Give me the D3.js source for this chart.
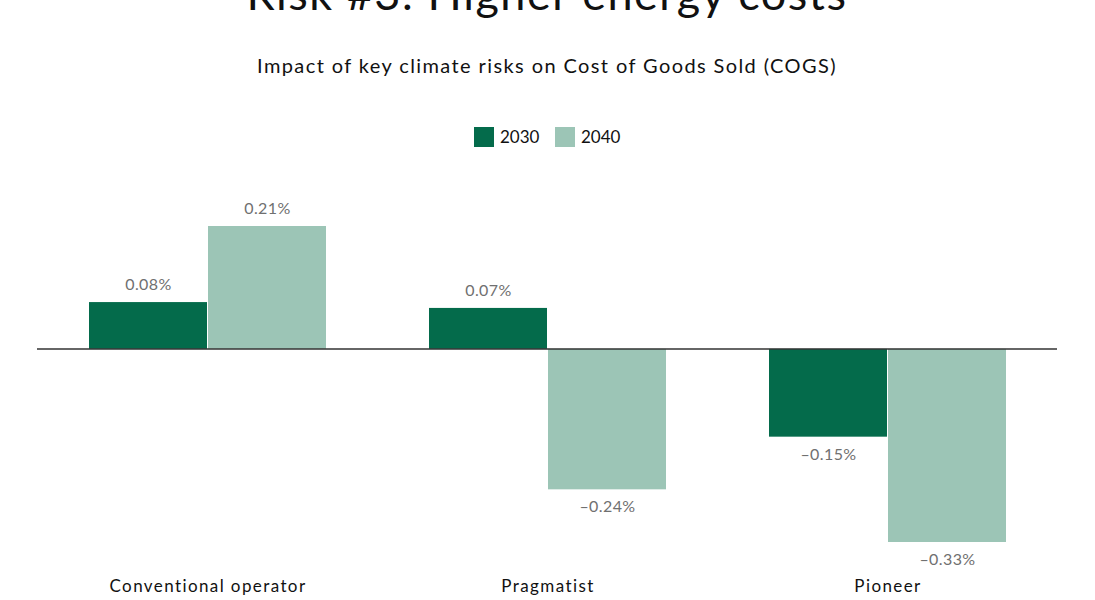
<!DOCTYPE html>
<html>
<head>
<meta charset="utf-8">
<script src="https://cdn.jsdelivr.net/npm/d3@7"></script>
<style>
  body { margin: 0; background: #fff; }
  svg text { font-family: "Lato", "Open Sans", sans-serif; }
</style>
</head>
<body>
<div id="chart"></div>
<script>
// data
var categories = ["Conventional operator", "Pragmatist", "Pioneer"]
var years = ["2030", "2040"]
var values2030 = [0.08, 0.07, -0.15]
var values2040 = [0.21, -0.24, -0.33]
var colors = ["#046b4b", "#9cc5b6"]

var width = 1095, height = 600

var svg = d3.select("#chart").append("svg")
    .attr("width", width)
    .attr("height", height)

// title is cropped at the top of the frame
svg.append("text")
    .attr("x", 547)
    .attr("y", 10)
    .attr("text-anchor", "middle")
    .attr("font-size", 45)
    .attr("letter-spacing", 1.5)
    .attr("fill", "#111")
    .text("Risk #3: Higher energy costs")

svg.append("text")
    .attr("x", 547)
    .attr("y", 73)
    .attr("text-anchor", "middle")
    .attr("font-size", 20)
    .attr("letter-spacing", 1.4)
    .attr("fill", "#111")
    .text("Impact of key climate risks on Cost of Goods Sold (COGS)")

// legend
var legend = svg.append("g").attr("transform", "translate(474,127)")
years.forEach(function(y, i) {
    var g = legend.append("g").attr("transform", "translate(" + (i * 81) + ",0)")
    g.append("rect").attr("width", 20).attr("height", 20).attr("fill", colors[i])
    g.append("text")
        .attr("x", 26)
        .attr("y", 16)
        .attr("font-size", 17)
        .attr("fill", "#111")
        .text(y)
})

// scales
var x0 = d3.scaleBand()
    .domain(categories)
    .range([38, 1058])
    .paddingInner(0.3)
    .paddingOuter(0.15)

var x1 = d3.scaleBand()
    .domain(years)
    .range([0, x0.bandwidth()])

var y = d3.scaleLinear()
    .domain([-0.33, 0.21])
    .range([542, 226])

var rows = categories.map(function(c, i) {
    return { cat: c, vals: [
        { year: "2030", v: values2030[i] },
        { year: "2040", v: values2040[i] }
    ]}
})

function fmt(v) {
    return (v < 0 ? "\u2013" : "") + Math.abs(v).toFixed(2) + "%"
}

var groups = svg.selectAll(".grp")
    .data(rows)
    .enter().append("g")
    .attr("class", "grp")
    .attr("transform", function(d) { return "translate(" + x0(d.cat) + ",0)" })

groups.selectAll("rect")
    .data(function(d) { return d.vals })
    .enter().append("rect")
    .attr("x", function(d) { return x1(d.year) })
    .attr("width", x1.bandwidth() - 1)
    .attr("y", function(d) { return y(Math.max(0, d.v)) })
    .attr("height", function(d) { return Math.abs(y(d.v) - y(0)) })
    .attr("fill", function(d, i) { return colors[i] })

groups.selectAll(".lbl")
    .data(function(d) { return d.vals })
    .enter().append("text")
    .attr("class", "lbl")
    .attr("x", function(d) { return x1(d.year) + x1.bandwidth() / 2 })
    .attr("y", function(d) { return d.v >= 0 ? y(d.v) - 12 : y(d.v) + 23 })
    .attr("text-anchor", "middle")
    .attr("font-size", 16)
    .attr("letter-spacing", 0.4)
    .attr("fill", "#707070")
    .text(function(d) { return fmt(d.v) })

// zero line
svg.append("line")
    .attr("x1", 37).attr("x2", 1057)
    .attr("y1", y(0)).attr("y2", y(0))
    .attr("stroke", "#333")
    .attr("stroke-width", 1.5)

// category labels
svg.selectAll(".cat")
    .data(categories)
    .enter().append("text")
    .attr("class", "cat")
    .attr("x", function(d) { return x0(d) + x0.bandwidth() / 2 })
    .attr("y", 592)
    .attr("text-anchor", "middle")
    .attr("font-size", 17)
    .attr("letter-spacing", 1.4)
    .attr("fill", "#111")
    .text(function(d) { return d })
</script>
</body>
</html>
